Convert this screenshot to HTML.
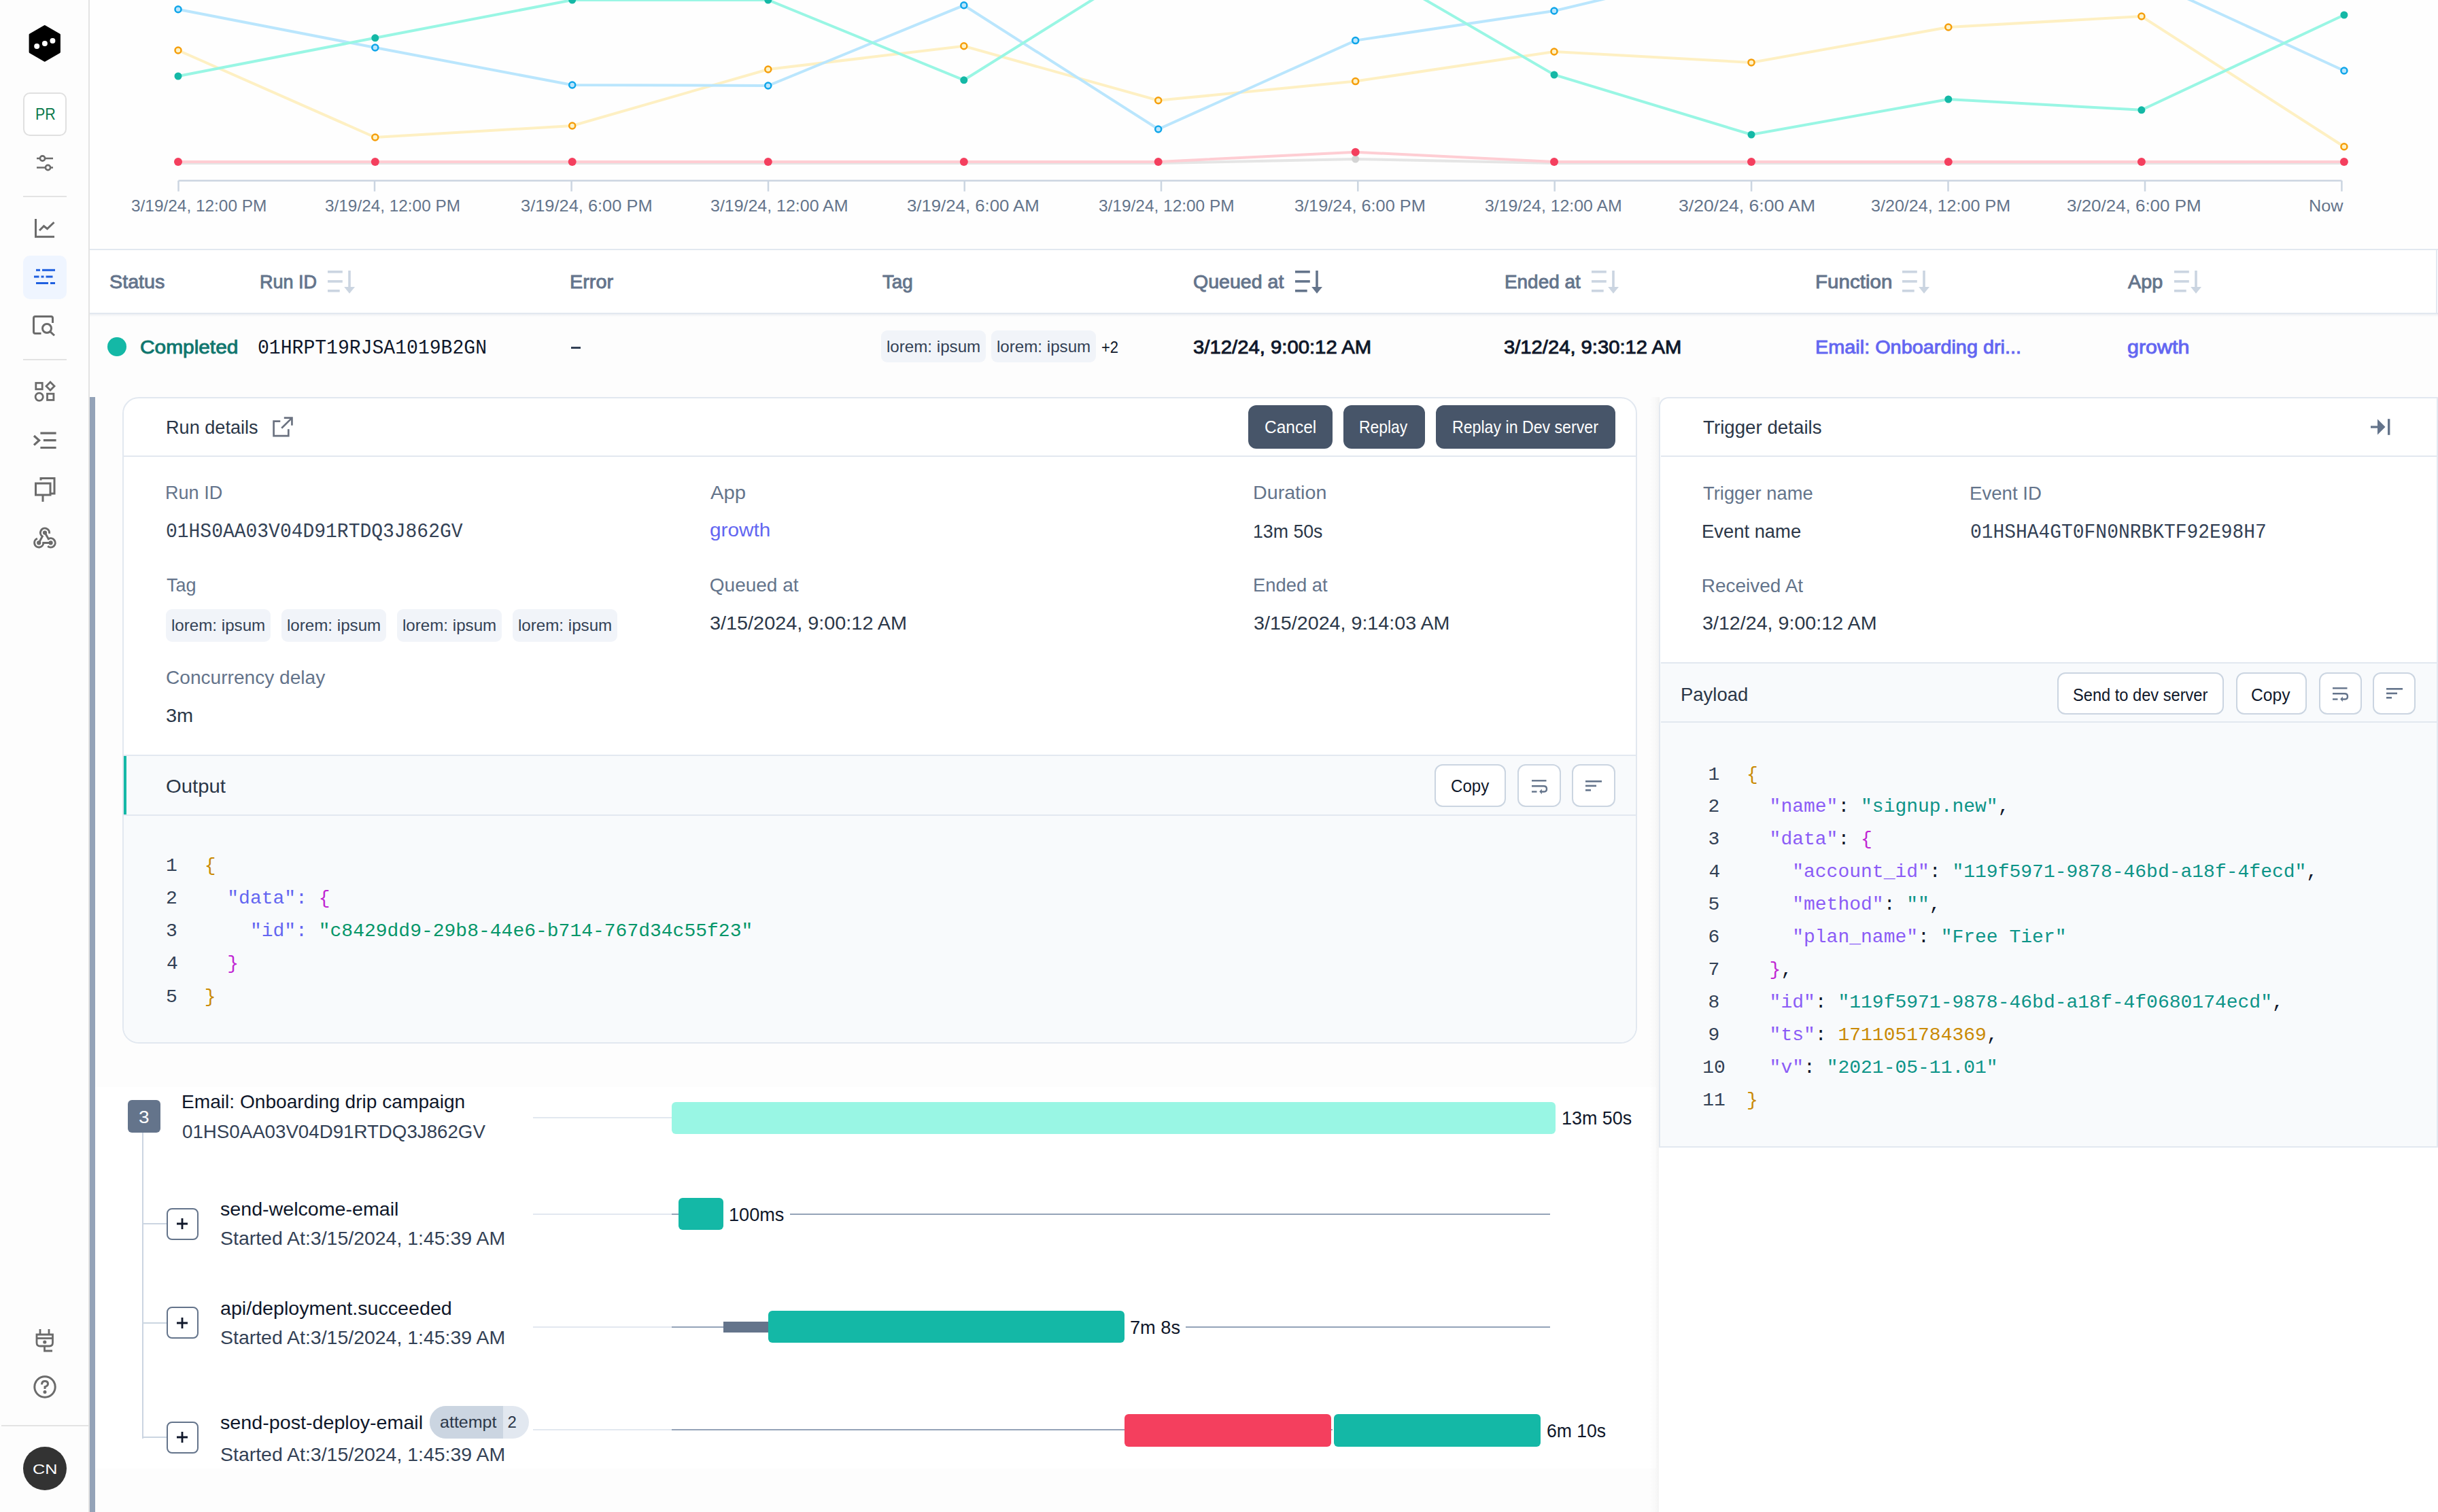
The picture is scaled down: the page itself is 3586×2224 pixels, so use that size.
<!DOCTYPE html>
<html><head><meta charset="utf-8"><style>
html,body{margin:0;padding:0;}
body{width:3586px;height:2224px;overflow:hidden;position:relative;background:#fdfdfd;font-family:"Liberation Sans",sans-serif;}
.t{position:absolute;white-space:pre;line-height:normal;}
svg{position:absolute;overflow:visible;}
</style></head><body>
<div style="position:absolute;left:0px;top:0px;width:130px;height:2224px;z-index:0;background:#fdfdfd;"></div><div style="position:absolute;left:130px;top:0px;width:2px;height:2224px;z-index:2;background:#e3e3e3;"></div><svg style="left:40px;top:35px;z-index:3" width="52" height="60" viewBox="0 0 52 60">
<path d="M25.75 3.5L47.4 16.1V41.6L25.75 54.2L4.1 41.6V16.1Z" fill="#000" stroke="#000" stroke-width="3" stroke-linejoin="round"/>
<circle cx="14.2" cy="32.9" r="4" fill="#fff"/><circle cx="25.9" cy="28.9" r="4" fill="#fff"/><circle cx="37.4" cy="24.9" r="4" fill="#fff"/>
</svg><div style="position:absolute;left:34px;top:136px;width:64px;height:64px;z-index:3;border:2px solid #e0e0e0;border-radius:10px;box-sizing:border-box;background:#fff;"></div><svg style="left:54px;top:226px;z-index:3" width="26" height="28" viewBox="0 0 26 28" fill="none" stroke="#6b6b6b" stroke-width="2.6">
<path d="M0 7H4.5M12.5 7H24"/><circle cx="8.5" cy="7" r="3.6"/>
<path d="M0 20.5H12.5M20.5 20.5H24"/><circle cx="16.5" cy="20.5" r="3.6"/></svg><div style="position:absolute;left:34px;top:288px;width:64px;height:2px;z-index:3;background:#e3e3e3;"></div><svg style="left:50px;top:320px;z-index:3" width="32" height="32" viewBox="0 0 32 32" fill="none" stroke="#6b6b6b" stroke-width="3">
<path d="M2.5 2V28.2H30"/><path d="M8 19L14.5 12.5L19.5 16.5L29.5 7"/></svg><div style="position:absolute;left:34px;top:376px;width:64px;height:64px;z-index:2;background:#eff5ff;border-radius:10px;"></div><svg style="left:48px;top:394px;z-index:3" width="36" height="26" viewBox="0 0 36 26" fill="#1e5fe0">
<rect x="5" y="1.8" width="6" height="3"/><rect x="14" y="1.8" width="19" height="3"/>
<rect x="2" y="11.5" width="7.5" height="3"/><rect x="12.5" y="11.5" width="4" height="3"/><rect x="19.5" y="11.5" width="10" height="3"/>
<rect x="5" y="21" width="18" height="3"/><rect x="26" y="21" width="7" height="3"/></svg><svg style="left:47px;top:463px;z-index:3" width="36" height="32" viewBox="0 0 36 32" fill="none" stroke="#6b6b6b" stroke-width="3">
<path d="M13.5 27.5H5Q2.5 27.5 2.5 25V5Q2.5 2.5 5 2.5H28Q30.5 2.5 30.5 5V12"/><circle cx="22" cy="20" r="6.5"/><path d="M26.8 24.8L33 30.5"/></svg><div style="position:absolute;left:34px;top:528px;width:64px;height:2px;z-index:3;background:#e3e3e3;"></div><svg style="left:49px;top:559px;z-index:3" width="34" height="34" viewBox="0 0 34 34" fill="none" stroke="#6b6b6b" stroke-width="2.8">
<rect x="3.8" y="4.3" width="9.4" height="9.2"/><path d="M25 3L31 9L25 15L19 9Z"/><circle cx="8.7" cy="24.8" r="5.6"/><rect x="20.5" y="20.2" width="9.4" height="9.2"/></svg><svg style="left:48px;top:633px;z-index:3" width="38" height="30" viewBox="0 0 38 30" fill="none" stroke="#6b6b6b" stroke-width="3.2">
<path d="M2 8L9.6 14.8L2 21.6"/><path d="M11.4 4.2H34.6M15.9 14.7H34.6M11.4 25.5H34.6"/></svg><svg style="left:50px;top:701px;z-index:3" width="34" height="40" viewBox="0 0 34 40" fill="none" stroke="#6b6b6b" stroke-width="3">
<path d="M10 5.5V2.5H30V25H24"/><rect x="2.5" y="10" width="21.5" height="17"/><path d="M13 27V37"/></svg><svg style="left:40px;top:765px;z-index:3" width="52" height="50" viewBox="0 0 52 50" fill="none" stroke="#6b6b6b" stroke-width="3">
<path d="M17.2 33.4L22.3 24A6.6 6.6 0 1 1 32.5 19.8"/><path d="M26 18.5L31.3 27.7A6.6 6.6 0 1 1 30.2 38.3"/><path d="M34.6 33.4H23.8A6.6 6.6 0 1 1 14.94 27.2"/>
<circle cx="26" cy="18.5" r="3.1" fill="#6b6b6b" stroke="none"/><circle cx="17.2" cy="33.4" r="3.1" fill="#6b6b6b" stroke="none"/><circle cx="34.6" cy="33.4" r="3.1" fill="#6b6b6b" stroke="none"/></svg><svg style="left:51px;top:1953px;z-index:3" width="30" height="38" viewBox="0 0 30 38" fill="none" stroke="#6b6b6b" stroke-width="2.8">
<path d="M8 2V10M21 2V10"/><path d="M3 10H26.5V22Q26.5 27 21.5 27H8Q3 27 3 22Z"/><path d="M3 15.5H26.5"/><path d="M14.5 27V34H26"/><circle cx="14.8" cy="21" r="1.2" fill="#6b6b6b"/></svg><svg style="left:48px;top:2022px;z-index:3" width="36" height="36" viewBox="0 0 36 36" fill="none" stroke="#6b6b6b" stroke-width="3">
<circle cx="18" cy="18" r="15.2"/><path d="M13.5 14.5Q13.5 9.5 18 9.5Q22.5 9.5 22.5 13.5Q22.5 16.5 18 18V21"/><circle cx="18" cy="25.5" r="1" fill="#6b6b6b"/></svg><div style="position:absolute;left:2px;top:2096px;width:128px;height:2px;z-index:3;background:#e3e3e3;"></div><div style="position:absolute;left:34px;top:2128px;width:64px;height:64px;z-index:3;background:#333;border-radius:50%;"></div><div style="position:absolute;left:132px;top:0px;width:3454px;height:366px;z-index:0;background:#fefefe;"></div><svg style="left:0;top:0;z-index:2" width="3586" height="366" viewBox="0 0 3586 366"><polyline points="262.0,240.0 551.8,240.0 841.7,240.0 1129.8,240.0 1417.8,240.0 1703.7,240.0 1993.7,234.0 2286.0,240.0 2576.0,240.0 2865.8,240.0 3149.9,240.0 3447.9,240.0" fill="none" stroke="#e5e5e5" stroke-width="4"/><polyline points="262.0,238.0 551.8,238.0 841.7,238.0 1129.8,238.0 1417.8,238.0 1703.7,238.0 1993.7,223.7 2286.0,238.0 2576.0,238.0 2865.8,238.0 3149.9,238.0 3447.9,238.0" fill="none" stroke="#fecdd3" stroke-width="4"/><polyline points="262.0,74.0 551.8,202.0 841.7,185.0 1129.8,102.0 1417.8,67.8 1703.7,147.8 1993.7,119.6 2286.0,76.0 2576.0,91.9 2865.8,40.0 3149.9,24.0 3447.9,215.8" fill="none" stroke="#fef0c3" stroke-width="4"/><polyline points="262.0,13.8 551.8,70.0 841.7,125.0 1129.8,126.0 1417.8,7.8 1703.7,190.0 1993.7,59.6 2286.0,16.0 2576.0,-53.0 2865.8,-60.0 3149.9,-33.0 3447.9,104.0" fill="none" stroke="#bae6fd" stroke-width="4"/><polyline points="262.0,112.0 551.8,55.8 841.7,0.0 1129.8,0.0 1417.8,117.8 1703.7,-61.0 1993.7,-60.0 2286.0,110.0 2576.0,198.0 2865.8,146.0 3149.9,161.8 3447.9,22.0" fill="none" stroke="#99f6e4" stroke-width="4"/><circle cx="1993.7" cy="234" r="5.5" fill="#d4d4d4"/><circle cx="262.0" cy="238" r="6" fill="#f43f5e"/><circle cx="551.8" cy="238" r="6" fill="#f43f5e"/><circle cx="841.7" cy="238" r="6" fill="#f43f5e"/><circle cx="1129.8" cy="238" r="6" fill="#f43f5e"/><circle cx="1417.8" cy="238" r="6" fill="#f43f5e"/><circle cx="1703.7" cy="238" r="6" fill="#f43f5e"/><circle cx="1993.7" cy="223.7" r="6" fill="#f43f5e"/><circle cx="2286.0" cy="238" r="6" fill="#f43f5e"/><circle cx="2576.0" cy="238" r="6" fill="#f43f5e"/><circle cx="2865.8" cy="238" r="6" fill="#f43f5e"/><circle cx="3149.9" cy="238" r="6" fill="#f43f5e"/><circle cx="3447.9" cy="238" r="6" fill="#f43f5e"/><circle cx="262.0" cy="74" r="4.5" fill="#fef3c7" stroke="#f59e0b" stroke-width="2.5"/><circle cx="551.8" cy="202" r="4.5" fill="#fef3c7" stroke="#f59e0b" stroke-width="2.5"/><circle cx="841.7" cy="185" r="4.5" fill="#fef3c7" stroke="#f59e0b" stroke-width="2.5"/><circle cx="1129.8" cy="102" r="4.5" fill="#fef3c7" stroke="#f59e0b" stroke-width="2.5"/><circle cx="1417.8" cy="67.8" r="4.5" fill="#fef3c7" stroke="#f59e0b" stroke-width="2.5"/><circle cx="1703.7" cy="147.8" r="4.5" fill="#fef3c7" stroke="#f59e0b" stroke-width="2.5"/><circle cx="1993.7" cy="119.6" r="4.5" fill="#fef3c7" stroke="#f59e0b" stroke-width="2.5"/><circle cx="2286.0" cy="76" r="4.5" fill="#fef3c7" stroke="#f59e0b" stroke-width="2.5"/><circle cx="2576.0" cy="91.9" r="4.5" fill="#fef3c7" stroke="#f59e0b" stroke-width="2.5"/><circle cx="2865.8" cy="40" r="4.5" fill="#fef3c7" stroke="#f59e0b" stroke-width="2.5"/><circle cx="3149.9" cy="24" r="4.5" fill="#fef3c7" stroke="#f59e0b" stroke-width="2.5"/><circle cx="3447.9" cy="215.8" r="4.5" fill="#fef3c7" stroke="#f59e0b" stroke-width="2.5"/><circle cx="262.0" cy="13.8" r="4.5" fill="#bae6fd" stroke="#0ea5e9" stroke-width="2.5"/><circle cx="551.8" cy="70" r="4.5" fill="#bae6fd" stroke="#0ea5e9" stroke-width="2.5"/><circle cx="841.7" cy="125" r="4.5" fill="#bae6fd" stroke="#0ea5e9" stroke-width="2.5"/><circle cx="1129.8" cy="126" r="4.5" fill="#bae6fd" stroke="#0ea5e9" stroke-width="2.5"/><circle cx="1417.8" cy="7.8" r="4.5" fill="#bae6fd" stroke="#0ea5e9" stroke-width="2.5"/><circle cx="1703.7" cy="190" r="4.5" fill="#bae6fd" stroke="#0ea5e9" stroke-width="2.5"/><circle cx="1993.7" cy="59.6" r="4.5" fill="#bae6fd" stroke="#0ea5e9" stroke-width="2.5"/><circle cx="2286.0" cy="16" r="4.5" fill="#bae6fd" stroke="#0ea5e9" stroke-width="2.5"/><circle cx="2576.0" cy="-53" r="4.5" fill="#bae6fd" stroke="#0ea5e9" stroke-width="2.5"/><circle cx="2865.8" cy="-60" r="4.5" fill="#bae6fd" stroke="#0ea5e9" stroke-width="2.5"/><circle cx="3149.9" cy="-33" r="4.5" fill="#bae6fd" stroke="#0ea5e9" stroke-width="2.5"/><circle cx="3447.9" cy="104" r="4.5" fill="#bae6fd" stroke="#0ea5e9" stroke-width="2.5"/><circle cx="262.0" cy="112" r="5.5" fill="#14b8a6"/><circle cx="551.8" cy="55.8" r="5.5" fill="#14b8a6"/><circle cx="841.7" cy="0" r="5.5" fill="#14b8a6"/><circle cx="1129.8" cy="0" r="5.5" fill="#14b8a6"/><circle cx="1417.8" cy="117.8" r="5.5" fill="#14b8a6"/><circle cx="1703.7" cy="-61" r="5.5" fill="#14b8a6"/><circle cx="1993.7" cy="-60" r="5.5" fill="#14b8a6"/><circle cx="2286.0" cy="110" r="5.5" fill="#14b8a6"/><circle cx="2576.0" cy="198" r="5.5" fill="#14b8a6"/><circle cx="2865.8" cy="146" r="5.5" fill="#14b8a6"/><circle cx="3149.9" cy="161.8" r="5.5" fill="#14b8a6"/><circle cx="3447.9" cy="22" r="5.5" fill="#14b8a6"/><path d="M262.5 265.7H3444.4" stroke="#cbd5e1" stroke-width="2.5"/><path d="M262.5 265.7V281.5" stroke="#cbd5e1" stroke-width="2.5"/><path d="M551.0 265.7V281.5" stroke="#cbd5e1" stroke-width="2.5"/><path d="M840.6 265.7V281.5" stroke="#cbd5e1" stroke-width="2.5"/><path d="M1130.0 265.7V281.5" stroke="#cbd5e1" stroke-width="2.5"/><path d="M1418.7 265.7V281.5" stroke="#cbd5e1" stroke-width="2.5"/><path d="M1708.0 265.7V281.5" stroke="#cbd5e1" stroke-width="2.5"/><path d="M1997.3 265.7V281.5" stroke="#cbd5e1" stroke-width="2.5"/><path d="M2286.7 265.7V281.5" stroke="#cbd5e1" stroke-width="2.5"/><path d="M2576.1 265.7V281.5" stroke="#cbd5e1" stroke-width="2.5"/><path d="M2865.5 265.7V281.5" stroke="#cbd5e1" stroke-width="2.5"/><path d="M3155.0 265.7V281.5" stroke="#cbd5e1" stroke-width="2.5"/><path d="M3444.4 265.7V281.5" stroke="#cbd5e1" stroke-width="2.5"/></svg><div style="position:absolute;left:132px;top:366px;width:3454px;height:95px;z-index:1;background:#fff;"></div><div style="position:absolute;left:132px;top:365.5px;width:3454px;height:2.0px;z-index:2;background:#e2e8f0;"></div><div style="position:absolute;left:132px;top:460px;width:3454px;height:2px;z-index:2;background:#e2e8f0;"></div><div style="position:absolute;left:132px;top:462px;width:3454px;height:4px;z-index:2;background:linear-gradient(#eef0f3,rgba(252,252,253,0));"></div><div style="position:absolute;left:3583px;top:366px;width:2px;height:95px;z-index:2;background:#e2e8f0;"></div><svg style="left:482px;top:398px;z-index:3" width="42" height="35" viewBox="0 0 42 35" fill="#cbd5e1">
<rect x="0" y="0" width="21.8" height="3.6"/><rect x="0" y="14.1" width="21.8" height="3.6"/><rect x="0" y="28" width="17.7" height="3.6"/>
<rect x="30.2" y="0" width="3.6" height="24.5"/><path d="M24.2 24H40L32 33.7Z"/></svg><svg style="left:1905px;top:398px;z-index:3" width="42" height="35" viewBox="0 0 42 35" fill="#64748b">
<rect x="0" y="0" width="21.8" height="3.6"/><rect x="0" y="14.1" width="21.8" height="3.6"/><rect x="0" y="28" width="17.7" height="3.6"/>
<rect x="30.2" y="0" width="3.6" height="24.5"/><path d="M24.2 24H40L32 33.7Z"/></svg><svg style="left:2340.7px;top:398px;z-index:3" width="42" height="35" viewBox="0 0 42 35" fill="#cbd5e1">
<rect x="0" y="0" width="21.8" height="3.6"/><rect x="0" y="14.1" width="21.8" height="3.6"/><rect x="0" y="28" width="17.7" height="3.6"/>
<rect x="30.2" y="0" width="3.6" height="24.5"/><path d="M24.2 24H40L32 33.7Z"/></svg><svg style="left:2798px;top:398px;z-index:3" width="42" height="35" viewBox="0 0 42 35" fill="#cbd5e1">
<rect x="0" y="0" width="21.8" height="3.6"/><rect x="0" y="14.1" width="21.8" height="3.6"/><rect x="0" y="28" width="17.7" height="3.6"/>
<rect x="30.2" y="0" width="3.6" height="24.5"/><path d="M24.2 24H40L32 33.7Z"/></svg><svg style="left:3197.7px;top:398px;z-index:3" width="42" height="35" viewBox="0 0 42 35" fill="#cbd5e1">
<rect x="0" y="0" width="21.8" height="3.6"/><rect x="0" y="14.1" width="21.8" height="3.6"/><rect x="0" y="28" width="17.7" height="3.6"/>
<rect x="30.2" y="0" width="3.6" height="24.5"/><path d="M24.2 24H40L32 33.7Z"/></svg><div style="position:absolute;left:158px;top:496px;width:28px;height:28px;border-radius:50%;background:#14b8a6;z-index:3"></div><div style="position:absolute;left:840px;top:510px;width:14px;height:2.5px;z-index:3;background:#334155;"></div><div style="position:absolute;left:1296px;top:485.5px;width:154px;height:47.799999999999955px;z-index:3;background:#f1f4f9;border-radius:9px;"></div><div style="position:absolute;left:1458px;top:485.5px;width:154px;height:47.799999999999955px;z-index:3;background:#f1f4f9;border-radius:9px;"></div><div style="position:absolute;left:132px;top:584px;width:8px;height:1640px;z-index:2;background:#94a3b8;"></div><div style="position:absolute;left:180px;top:583.5px;width:2228px;height:951.5px;z-index:1;border:2px solid #e2e8f0;border-radius:24px;background:#fff;box-sizing:border-box;overflow:hidden;"></div><div style="position:absolute;left:182px;top:670px;width:2224px;height:2px;z-index:2;background:#e2e8f0;"></div><svg style="left:400px;top:612px;z-index:3" width="32" height="32" viewBox="0 0 32 32" fill="none" stroke="#6b7280" stroke-width="2.7">
<path d="M12.3 7.6H2.6V29.2H24.3V19.3"/><path d="M17.8 2.65H29.45V13.8"/><path d="M14.2 17.8L28.8 3.4"/></svg><div style="position:absolute;left:1836px;top:596px;width:124px;height:64px;z-index:3;background:#475569;border-radius:12px;"></div><div style="position:absolute;left:1976px;top:596px;width:120px;height:64px;z-index:3;background:#475569;border-radius:12px;"></div><div style="position:absolute;left:2112px;top:596px;width:264px;height:64px;z-index:3;background:#475569;border-radius:12px;"></div><div style="position:absolute;left:244px;top:896px;width:154px;height:47.5px;z-index:3;background:#f1f4f9;border-radius:9px;"></div><div style="position:absolute;left:414px;top:896px;width:154px;height:47.5px;z-index:3;background:#f1f4f9;border-radius:9px;"></div><div style="position:absolute;left:584px;top:896px;width:154px;height:47.5px;z-index:3;background:#f1f4f9;border-radius:9px;"></div><div style="position:absolute;left:754px;top:896px;width:154px;height:47.5px;z-index:3;background:#f1f4f9;border-radius:9px;"></div><div style="position:absolute;left:182px;top:1110px;width:2224px;height:423px;z-index:2;background:#f8fafc;border-radius:0 0 22px 22px;"></div><div style="position:absolute;left:182px;top:1110px;width:2224px;height:2px;z-index:3;background:#e2e8f0;"></div><div style="position:absolute;left:182px;top:1198px;width:2224px;height:2px;z-index:3;background:#e2e8f0;"></div><div style="position:absolute;left:182px;top:1112px;width:4px;height:86px;z-index:3;background:#14b8a6;"></div><div style="position:absolute;left:2110.3px;top:1124.4px;width:105.19999999999982px;height:62.899999999999864px;z-index:4;background:#fff;border:2px solid #cbd5e1;border-radius:12px;box-sizing:border-box;"></div><div style="position:absolute;left:2232px;top:1124.4px;width:63.5px;height:62.899999999999864px;z-index:4;background:#fff;border:2px solid #cbd5e1;border-radius:12px;box-sizing:border-box;"></div><svg style="left:2253px;top:1146.5px;z-index:5" width="24" height="24" viewBox="0 0 24 24" fill="none" stroke="#64748b" stroke-width="2.4">
<path d="M0 1.3H21.5"/><path d="M0 9.3H17.5Q22 9.3 22 13.4Q22 17.5 17.5 17.5H13"/><path d="M0 17.5H7.5"/><path d="M11.2 17.3L14.8 13.4V21.2Z" fill="#64748b" stroke="none"/></svg><div style="position:absolute;left:2312px;top:1124.4px;width:63.59999999999991px;height:62.899999999999864px;z-index:4;background:#fff;border:2px solid #cbd5e1;border-radius:12px;box-sizing:border-box;"></div><svg style="left:2332px;top:1148px;z-index:5" width="25" height="17" viewBox="0 0 25 17" fill="#64748b">
<rect x="0" y="0" width="24" height="2.6"/><rect x="0" y="6.6" width="16" height="2.6"/><rect x="0" y="13" width="8" height="2.6"/></svg><div style="position:absolute;left:140px;top:1599px;width:2296px;height:561px;z-index:0;background:#fff;"></div><div style="position:absolute;left:188px;top:1618.3px;width:48px;height:47.700000000000045px;z-index:3;background:#64748b;border-radius:6px;"></div><div style="position:absolute;left:209px;top:1666px;width:2px;height:450px;z-index:2;background:#cbd5e1;"></div><div style="position:absolute;left:210px;top:1799.1px;width:35px;height:2.0px;z-index:2;background:#cbd5e1;"></div><div style="position:absolute;left:244.8px;top:1776.6px;width:46.80000000000001px;height:47.0px;z-index:3;border:2px solid #64748b;border-radius:8px;box-sizing:border-box;background:#fff;"></div><svg style="left:256px;top:1788.1px;z-index:4" width="24" height="24" viewBox="0 0 24 24" stroke="#0f172a" stroke-width="2.8"><path d="M12 4V20M4 12H20"/></svg><div style="position:absolute;left:210px;top:1944.5px;width:35px;height:2.0px;z-index:2;background:#cbd5e1;"></div><div style="position:absolute;left:244.8px;top:1922px;width:46.80000000000001px;height:47px;z-index:3;border:2px solid #64748b;border-radius:8px;box-sizing:border-box;background:#fff;"></div><svg style="left:256px;top:1933.5px;z-index:4" width="24" height="24" viewBox="0 0 24 24" stroke="#0f172a" stroke-width="2.8"><path d="M12 4V20M4 12H20"/></svg><div style="position:absolute;left:210px;top:2113.3px;width:35px;height:2.0px;z-index:2;background:#cbd5e1;"></div><div style="position:absolute;left:244.8px;top:2090.8px;width:46.80000000000001px;height:47.0px;z-index:3;border:2px solid #64748b;border-radius:8px;box-sizing:border-box;background:#fff;"></div><svg style="left:256px;top:2102.3px;z-index:4" width="24" height="24" viewBox="0 0 24 24" stroke="#0f172a" stroke-width="2.8"><path d="M12 4V20M4 12H20"/></svg><div style="position:absolute;left:632px;top:2068.4px;width:146px;height:47.40000000000009px;z-index:3;background:#e2e8f0;border-radius:24px;"></div><div style="position:absolute;left:632px;top:2068.4px;width:108px;height:47.40000000000009px;z-index:3;background:#cbd5e1;border-radius:24px 0 0 24px;"></div><div style="position:absolute;left:784px;top:1643.0px;width:204px;height:2.0px;z-index:2;background:#e2e8f0;"></div><div style="position:absolute;left:988px;top:1620.5px;width:1299.5px;height:47.200000000000045px;z-index:3;background:#99f6e4;border-radius:6px;"></div><div style="position:absolute;left:784px;top:1784.7px;width:204px;height:2.0px;z-index:2;background:#e2e8f0;"></div><div style="position:absolute;left:988px;top:1784.7px;width:10px;height:2.0px;z-index:2;background:#94a3b8;"></div><div style="position:absolute;left:998px;top:1762.3px;width:65.70000000000005px;height:46.700000000000045px;z-index:3;background:#14b8a6;border-radius:6px;"></div><div style="position:absolute;left:1161.6px;top:1784.7px;width:1118.2000000000003px;height:2.0px;z-index:2;background:#94a3b8;"></div><div style="position:absolute;left:784px;top:1950.9px;width:204px;height:2.0px;z-index:2;background:#e2e8f0;"></div><div style="position:absolute;left:988px;top:1950.9px;width:76px;height:2.0px;z-index:2;background:#94a3b8;"></div><div style="position:absolute;left:1064px;top:1944px;width:67px;height:15.5px;z-index:3;background:#64748b;"></div><div style="position:absolute;left:1130px;top:1928px;width:523.7px;height:47.200000000000045px;z-index:3;background:#14b8a6;border-radius:6px;"></div><div style="position:absolute;left:1744px;top:1950.9px;width:535.8000000000002px;height:2.0px;z-index:2;background:#94a3b8;"></div><div style="position:absolute;left:784px;top:2102.4px;width:204px;height:2.0px;z-index:2;background:#e2e8f0;"></div><div style="position:absolute;left:988px;top:2102.4px;width:972px;height:2.0px;z-index:2;background:#94a3b8;"></div><div style="position:absolute;left:1654px;top:2080px;width:303.79999999999995px;height:47.80000000000018px;z-index:3;background:#f43f5e;border-radius:6px;"></div><div style="position:absolute;left:1962px;top:2080px;width:303.8000000000002px;height:47.80000000000018px;z-index:3;background:#14b8a6;border-radius:6px;"></div><div style="position:absolute;left:2426px;top:584px;width:15px;height:1640px;z-index:1;background:linear-gradient(to left, rgba(0,0,0,0.045), rgba(0,0,0,0.015) 40%, rgba(0,0,0,0));"></div><div style="position:absolute;left:2440px;top:584px;width:1146px;height:1670px;z-index:1;border-radius:14px 0 0 0;background:#fff;"></div><div style="position:absolute;left:2440px;top:584px;width:1146px;height:1104px;z-index:4;border:2px solid #e2e8f0;border-radius:14px 0 0 0;box-sizing:border-box;"></div><div style="position:absolute;left:2443px;top:670px;width:1143px;height:2px;z-index:2;background:#e2e8f0;"></div><svg style="left:3486px;top:616px;z-index:3" width="32" height="25" viewBox="0 0 32 25" fill="#64748b">
<rect x="1" y="10.4" width="11" height="3.3"/><path d="M11 0.6L22.5 12.1L11 23.4Z"/><rect x="26" y="0.2" width="3.4" height="23.6"/></svg><div style="position:absolute;left:2442px;top:974px;width:1142px;height:712px;z-index:2;background:#f8fafc;"></div><div style="position:absolute;left:2443px;top:973.6px;width:1143px;height:2.0px;z-index:3;background:#e2e8f0;"></div><div style="position:absolute;left:2443px;top:1061.2px;width:1143px;height:2.0px;z-index:3;background:#e2e8f0;"></div><div style="position:absolute;left:3026.4px;top:989px;width:244.9000000000001px;height:62.200000000000045px;z-index:4;background:#fff;border:2px solid #cbd5e1;border-radius:12px;box-sizing:border-box;"></div><div style="position:absolute;left:3288.5px;top:989px;width:104.80000000000018px;height:62.200000000000045px;z-index:4;background:#fff;border:2px solid #cbd5e1;border-radius:12px;box-sizing:border-box;"></div><div style="position:absolute;left:3410.5px;top:989px;width:63.09999999999991px;height:62.200000000000045px;z-index:4;background:#fff;border:2px solid #cbd5e1;border-radius:12px;box-sizing:border-box;"></div><svg style="left:3431px;top:1010.5px;z-index:5" width="24" height="24" viewBox="0 0 24 24" fill="none" stroke="#64748b" stroke-width="2.4">
<path d="M0 1.3H21.5"/><path d="M0 9.3H17.5Q22 9.3 22 13.4Q22 17.5 17.5 17.5H13"/><path d="M0 17.5H7.5"/><path d="M11.2 17.3L14.8 13.4V21.2Z" fill="#64748b" stroke="none"/></svg><div style="position:absolute;left:3490.3px;top:989px;width:63.19999999999982px;height:62.200000000000045px;z-index:4;background:#fff;border:2px solid #cbd5e1;border-radius:12px;box-sizing:border-box;"></div><svg style="left:3510px;top:1012px;z-index:5" width="25" height="17" viewBox="0 0 25 17" fill="#64748b">
<rect x="0" y="0" width="24" height="2.6"/><rect x="0" y="6.6" width="16" height="2.6"/><rect x="0" y="13" width="8" height="2.6"/></svg>
<div class="t" style="left:51.60px;top:154.07px;font:400 24px 'Liberation Sans', sans-serif;color:#0b7a4b;z-index:5;transform:scaleX(0.8938);transform-origin:0 0;">PR</div><div class="t" style="left:48.20px;top:2148.69px;font:400 21px 'Liberation Sans', sans-serif;color:#fff;z-index:5;transform:scaleX(1.2001);transform-origin:0 0;">CN</div><div class="t" style="left:193.20px;top:288.77px;font:400 24px 'Liberation Sans', sans-serif;color:#64748b;z-index:5;transform:scaleX(1.0165);transform-origin:0 0;">3/19/24, 12:00 PM</div><div class="t" style="left:477.60px;top:288.77px;font:400 24px 'Liberation Sans', sans-serif;color:#64748b;z-index:5;transform:scaleX(1.0144);transform-origin:0 0;">3/19/24, 12:00 PM</div><div class="t" style="left:765.70px;top:288.77px;font:400 24px 'Liberation Sans', sans-serif;color:#64748b;z-index:5;transform:scaleX(1.0589);transform-origin:0 0;">3/19/24, 6:00 PM</div><div class="t" style="left:1045.00px;top:288.77px;font:400 24px 'Liberation Sans', sans-serif;color:#64748b;z-index:5;transform:scaleX(1.0396);transform-origin:0 0;">3/19/24, 12:00 AM</div><div class="t" style="left:1334.00px;top:288.77px;font:400 24px 'Liberation Sans', sans-serif;color:#64748b;z-index:5;transform:scaleX(1.0726);transform-origin:0 0;">3/19/24, 6:00 AM</div><div class="t" style="left:1615.80px;top:288.77px;font:400 24px 'Liberation Sans', sans-serif;color:#64748b;z-index:5;transform:scaleX(1.0175);transform-origin:0 0;">3/19/24, 12:00 PM</div><div class="t" style="left:1903.60px;top:288.77px;font:400 24px 'Liberation Sans', sans-serif;color:#64748b;z-index:5;transform:scaleX(1.0545);transform-origin:0 0;">3/19/24, 6:00 PM</div><div class="t" style="left:2184.00px;top:288.77px;font:400 24px 'Liberation Sans', sans-serif;color:#64748b;z-index:5;transform:scaleX(1.0354);transform-origin:0 0;">3/19/24, 12:00 AM</div><div class="t" style="left:2469.00px;top:288.77px;font:400 24px 'Liberation Sans', sans-serif;color:#64748b;z-index:5;transform:scaleX(1.1084);transform-origin:0 0;">3/20/24, 6:00 AM</div><div class="t" style="left:2751.60px;top:288.77px;font:400 24px 'Liberation Sans', sans-serif;color:#64748b;z-index:5;transform:scaleX(1.0454);transform-origin:0 0;">3/20/24, 12:00 PM</div><div class="t" style="left:3039.60px;top:288.77px;font:400 24px 'Liberation Sans', sans-serif;color:#64748b;z-index:5;transform:scaleX(1.0811);transform-origin:0 0;">3/20/24, 6:00 PM</div><div class="t" style="left:3396.30px;top:288.77px;font:400 24px 'Liberation Sans', sans-serif;color:#64748b;z-index:5;transform:scaleX(1.0522);transform-origin:0 0;">Now</div><div class="t" style="left:161.00px;top:399.25px;font:400 28px 'Liberation Sans', sans-serif;color:#64748b;z-index:5;transform:scaleX(1.0256);transform-origin:0 0;-webkit-text-stroke:0.9px #64748b;">Status</div><div class="t" style="left:382.30px;top:399.25px;font:400 28px 'Liberation Sans', sans-serif;color:#64748b;z-index:5;transform:scaleX(0.9648);transform-origin:0 0;-webkit-text-stroke:0.9px #64748b;">Run ID</div><div class="t" style="left:838.40px;top:399.25px;font:400 28px 'Liberation Sans', sans-serif;color:#64748b;z-index:5;transform:scaleX(1.0296);transform-origin:0 0;-webkit-text-stroke:0.9px #64748b;">Error</div><div class="t" style="left:1297.70px;top:399.25px;font:400 28px 'Liberation Sans', sans-serif;color:#64748b;z-index:5;transform:scaleX(0.9909);transform-origin:0 0;-webkit-text-stroke:0.9px #64748b;">Tag</div><div class="t" style="left:1754.50px;top:399.25px;font:400 28px 'Liberation Sans', sans-serif;color:#64748b;z-index:5;transform:scaleX(1.0200);transform-origin:0 0;-webkit-text-stroke:0.9px #64748b;">Queued at</div><div class="t" style="left:2212.70px;top:399.25px;font:400 28px 'Liberation Sans', sans-serif;color:#64748b;z-index:5;transform:scaleX(0.9964);transform-origin:0 0;-webkit-text-stroke:0.9px #64748b;">Ended at</div><div class="t" style="left:2669.60px;top:399.25px;font:400 28px 'Liberation Sans', sans-serif;color:#64748b;z-index:5;transform:scaleX(1.0558);transform-origin:0 0;-webkit-text-stroke:0.9px #64748b;">Function</div><div class="t" style="left:3130.00px;top:399.25px;font:400 28px 'Liberation Sans', sans-serif;color:#64748b;z-index:5;transform:scaleX(1.0275);transform-origin:0 0;-webkit-text-stroke:0.9px #64748b;">App</div><div class="t" style="left:205.50px;top:495.45px;font:400 28px 'Liberation Sans', sans-serif;color:#0f766e;z-index:5;transform:scaleX(1.0662);transform-origin:0 0;-webkit-text-stroke:0.9px #0f766e;">Completed</div><div class="t" style="left:379.40px;top:495.22px;font:400 30px 'Liberation Mono', monospace;color:#0f172a;z-index:5;transform:scaleX(0.9360);transform-origin:0 0;">01HRPT19RJSA1019B2GN</div><div class="t" style="left:1303.60px;top:495.97px;font:400 24px 'Liberation Sans', sans-serif;color:#334155;z-index:5;transform:scaleX(1.0059);transform-origin:0 0;">lorem: ipsum</div><div class="t" style="left:1465.60px;top:495.97px;font:400 24px 'Liberation Sans', sans-serif;color:#334155;z-index:5;transform:scaleX(1.0059);transform-origin:0 0;">lorem: ipsum</div><div class="t" style="left:1619.60px;top:496.77px;font:400 24px 'Liberation Sans', sans-serif;color:#0f172a;z-index:5;transform:scaleX(0.9157);transform-origin:0 0;">+2</div><div class="t" style="left:1754.80px;top:494.65px;font:400 28px 'Liberation Sans', sans-serif;color:#0f172a;z-index:5;transform:scaleX(1.0458);transform-origin:0 0;-webkit-text-stroke:0.9px #0f172a;">3/12/24, 9:00:12 AM</div><div class="t" style="left:2212.20px;top:494.65px;font:400 28px 'Liberation Sans', sans-serif;color:#0f172a;z-index:5;transform:scaleX(1.0426);transform-origin:0 0;-webkit-text-stroke:0.9px #0f172a;">3/12/24, 9:30:12 AM</div><div class="t" style="left:2669.60px;top:495.05px;font:400 28px 'Liberation Sans', sans-serif;color:#6366f1;z-index:5;transform:scaleX(1.0303);transform-origin:0 0;-webkit-text-stroke:0.9px #6366f1;">Email: Onboarding dri...</div><div class="t" style="left:3129.00px;top:495.05px;font:400 28px 'Liberation Sans', sans-serif;color:#6366f1;z-index:5;transform:scaleX(1.0868);transform-origin:0 0;-webkit-text-stroke:0.9px #6366f1;">growth</div><div class="t" style="left:243.70px;top:613.45px;font:400 28px 'Liberation Sans', sans-serif;color:#2b3748;z-index:5;transform:scaleX(0.9679);transform-origin:0 0;">Run details</div><div class="t" style="left:1860.00px;top:613.46px;font:400 26px 'Liberation Sans', sans-serif;color:#fff;z-index:5;transform:scaleX(0.9419);transform-origin:0 0;">Cancel</div><div class="t" style="left:1999.40px;top:613.46px;font:400 26px 'Liberation Sans', sans-serif;color:#fff;z-index:5;transform:scaleX(0.8810);transform-origin:0 0;">Replay</div><div class="t" style="left:2135.90px;top:613.46px;font:400 26px 'Liberation Sans', sans-serif;color:#fff;z-index:5;transform:scaleX(0.8904);transform-origin:0 0;">Replay in Dev server</div><div class="t" style="left:242.60px;top:708.75px;font:400 28px 'Liberation Sans', sans-serif;color:#64748b;z-index:5;transform:scaleX(0.9667);transform-origin:0 0;">Run ID</div><div class="t" style="left:1044.80px;top:708.75px;font:400 28px 'Liberation Sans', sans-serif;color:#64748b;z-index:5;transform:scaleX(1.0449);transform-origin:0 0;">App</div><div class="t" style="left:1843.20px;top:708.75px;font:400 28px 'Liberation Sans', sans-serif;color:#64748b;z-index:5;transform:scaleX(1.0236);transform-origin:0 0;">Duration</div><div class="t" style="left:243.60px;top:765.42px;font:400 30px 'Liberation Mono', monospace;color:#334155;z-index:5;transform:scaleX(0.9326);transform-origin:0 0;">01HS0AA03V04D91RTDQ3J862GV</div><div class="t" style="left:1043.80px;top:764.25px;font:400 28px 'Liberation Sans', sans-serif;color:#6366f1;z-index:5;transform:scaleX(1.0634);transform-origin:0 0;">growth</div><div class="t" style="left:1843.20px;top:765.65px;font:400 28px 'Liberation Sans', sans-serif;color:#2b3748;z-index:5;transform:scaleX(0.9543);transform-origin:0 0;">13m 50s</div><div class="t" style="left:244.60px;top:844.95px;font:400 28px 'Liberation Sans', sans-serif;color:#64748b;z-index:5;transform:scaleX(0.9637);transform-origin:0 0;">Tag</div><div class="t" style="left:1043.80px;top:845.05px;font:400 28px 'Liberation Sans', sans-serif;color:#64748b;z-index:5;">Queued at</div><div class="t" style="left:1843.20px;top:845.05px;font:400 28px 'Liberation Sans', sans-serif;color:#64748b;z-index:5;transform:scaleX(0.9782);transform-origin:0 0;">Ended at</div><div class="t" style="left:251.80px;top:905.87px;font:400 24px 'Liberation Sans', sans-serif;color:#334155;z-index:5;transform:scaleX(1.0059);transform-origin:0 0;">lorem: ipsum</div><div class="t" style="left:421.80px;top:905.87px;font:400 24px 'Liberation Sans', sans-serif;color:#334155;z-index:5;transform:scaleX(1.0059);transform-origin:0 0;">lorem: ipsum</div><div class="t" style="left:591.80px;top:905.87px;font:400 24px 'Liberation Sans', sans-serif;color:#334155;z-index:5;transform:scaleX(1.0059);transform-origin:0 0;">lorem: ipsum</div><div class="t" style="left:761.80px;top:905.87px;font:400 24px 'Liberation Sans', sans-serif;color:#334155;z-index:5;transform:scaleX(1.0059);transform-origin:0 0;">lorem: ipsum</div><div class="t" style="left:1043.80px;top:901.35px;font:400 28px 'Liberation Sans', sans-serif;color:#2b3748;z-index:5;transform:scaleX(1.0294);transform-origin:0 0;">3/15/2024, 9:00:12 AM</div><div class="t" style="left:1844.20px;top:901.35px;font:400 28px 'Liberation Sans', sans-serif;color:#2b3748;z-index:5;transform:scaleX(1.0237);transform-origin:0 0;">3/15/2024, 9:14:03 AM</div><div class="t" style="left:243.60px;top:981.15px;font:400 28px 'Liberation Sans', sans-serif;color:#64748b;z-index:5;transform:scaleX(1.0034);transform-origin:0 0;">Concurrency delay</div><div class="t" style="left:243.60px;top:1036.95px;font:400 28px 'Liberation Sans', sans-serif;color:#2b3748;z-index:5;transform:scaleX(1.0339);transform-origin:0 0;">3m</div><div class="t" style="left:244.00px;top:1141.05px;font:400 28px 'Liberation Sans', sans-serif;color:#2b3748;z-index:5;transform:scaleX(1.0458);transform-origin:0 0;">Output</div><div class="t" style="left:2134.00px;top:1140.76px;font:400 26px 'Liberation Sans', sans-serif;color:#0f172a;z-index:5;transform:scaleX(0.9267);transform-origin:0 0;">Copy</div><div class="t" style="left:300.70px;top:1258.19px;font:400 28px 'Liberation Mono', monospace;color:#0f172a;z-index:5;"><span style="color:#ca8a04">{</span></div><div class="t" style="left:244.00px;top:1258.19px;font:400 28px 'Liberation Mono', monospace;color:#334155;z-index:5;">1</div><div class="t" style="left:300.70px;top:1306.29px;font:400 28px 'Liberation Mono', monospace;color:#0f172a;z-index:5;"><span style="color:#6366f1">  "data":</span><span style="color:#6366f1"> </span><span style="color:#c026d3">{</span></div><div class="t" style="left:244.00px;top:1306.29px;font:400 28px 'Liberation Mono', monospace;color:#334155;z-index:5;">2</div><div class="t" style="left:300.70px;top:1354.39px;font:400 28px 'Liberation Mono', monospace;color:#0f172a;z-index:5;"><span style="color:#6366f1">    "id":</span><span style="color:#6366f1"> </span><span style="color:#059669">"c8429dd9-29b8-44e6-b714-767d34c55f23"</span></div><div class="t" style="left:244.00px;top:1354.39px;font:400 28px 'Liberation Mono', monospace;color:#334155;z-index:5;">3</div><div class="t" style="left:300.70px;top:1402.49px;font:400 28px 'Liberation Mono', monospace;color:#0f172a;z-index:5;"><span style="color:#c026d3">  }</span></div><div class="t" style="left:245.00px;top:1402.49px;font:400 28px 'Liberation Mono', monospace;color:#334155;z-index:5;">4</div><div class="t" style="left:300.70px;top:1450.59px;font:400 28px 'Liberation Mono', monospace;color:#0f172a;z-index:5;"><span style="color:#ca8a04">}</span></div><div class="t" style="left:244.00px;top:1450.59px;font:400 28px 'Liberation Mono', monospace;color:#334155;z-index:5;">5</div><div class="t" style="left:204.00px;top:1628.46px;font:400 26px 'Liberation Sans', sans-serif;color:#fff;z-index:5;transform:scaleX(1.0769);transform-origin:0 0;">3</div><div class="t" style="left:267.20px;top:1605.05px;font:400 28px 'Liberation Sans', sans-serif;color:#0f172a;z-index:5;transform:scaleX(1.0039);transform-origin:0 0;">Email: Onboarding drip campaign</div><div class="t" style="left:268.00px;top:1648.85px;font:400 28px 'Liberation Sans', sans-serif;color:#334155;z-index:5;transform:scaleX(0.9889);transform-origin:0 0;">01HS0AA03V04D91RTDQ3J862GV</div><div class="t" style="left:324.00px;top:1762.55px;font:400 28px 'Liberation Sans', sans-serif;color:#0f172a;z-index:5;transform:scaleX(1.0220);transform-origin:0 0;">send-welcome-email</div><div class="t" style="left:324.00px;top:1806.35px;font:400 28px 'Liberation Sans', sans-serif;color:#334155;z-index:5;transform:scaleX(1.0161);transform-origin:0 0;">Started At:3/15/2024, 1:45:39 AM</div><div class="t" style="left:324.00px;top:1908.65px;font:400 28px 'Liberation Sans', sans-serif;color:#0f172a;z-index:5;transform:scaleX(1.0230);transform-origin:0 0;">api/deployment.succeeded</div><div class="t" style="left:324.00px;top:1952.45px;font:400 28px 'Liberation Sans', sans-serif;color:#334155;z-index:5;transform:scaleX(1.0161);transform-origin:0 0;">Started At:3/15/2024, 1:45:39 AM</div><div class="t" style="left:324.00px;top:2076.65px;font:400 28px 'Liberation Sans', sans-serif;color:#0f172a;z-index:5;transform:scaleX(1.0242);transform-origin:0 0;">send-post-deploy-email</div><div class="t" style="left:324.00px;top:2124.05px;font:400 28px 'Liberation Sans', sans-serif;color:#334155;z-index:5;transform:scaleX(1.0161);transform-origin:0 0;">Started At:3/15/2024, 1:45:39 AM</div><div class="t" style="left:647.30px;top:2078.27px;font:400 24px 'Liberation Sans', sans-serif;color:#2b3748;z-index:5;transform:scaleX(1.0431);transform-origin:0 0;">attempt</div><div class="t" style="left:746.50px;top:2078.27px;font:400 24px 'Liberation Sans', sans-serif;color:#2b3748;z-index:5;">2</div><div class="t" style="left:2296.60px;top:1629.15px;font:400 28px 'Liberation Sans', sans-serif;color:#0f172a;z-index:5;transform:scaleX(0.9600);transform-origin:0 0;">13m 50s</div><div class="t" style="left:1072.30px;top:1770.65px;font:400 28px 'Liberation Sans', sans-serif;color:#0f172a;z-index:5;transform:scaleX(0.9679);transform-origin:0 0;">100ms</div><div class="t" style="left:1661.60px;top:1936.65px;font:400 28px 'Liberation Sans', sans-serif;color:#0f172a;z-index:5;transform:scaleX(0.9707);transform-origin:0 0;">7m 8s</div><div class="t" style="left:2275.00px;top:2088.65px;font:400 28px 'Liberation Sans', sans-serif;color:#0f172a;z-index:5;transform:scaleX(0.9489);transform-origin:0 0;">6m 10s</div><div class="t" style="left:2504.70px;top:612.85px;font:400 28px 'Liberation Sans', sans-serif;color:#2b3748;z-index:5;transform:scaleX(0.9898);transform-origin:0 0;">Trigger details</div><div class="t" style="left:2504.70px;top:710.15px;font:400 28px 'Liberation Sans', sans-serif;color:#64748b;z-index:5;transform:scaleX(0.9770);transform-origin:0 0;">Trigger name</div><div class="t" style="left:2897.20px;top:710.15px;font:400 28px 'Liberation Sans', sans-serif;color:#64748b;z-index:5;transform:scaleX(0.9867);transform-origin:0 0;">Event ID</div><div class="t" style="left:2502.70px;top:765.65px;font:400 28px 'Liberation Sans', sans-serif;color:#2b3748;z-index:5;transform:scaleX(0.9781);transform-origin:0 0;">Event name</div><div class="t" style="left:2898.00px;top:765.62px;font:400 30px 'Liberation Mono', monospace;color:#334155;z-index:5;transform:scaleX(0.9310);transform-origin:0 0;">01HSHA4GT0FN0NRBKTF92E98H7</div><div class="t" style="left:2502.70px;top:845.55px;font:400 28px 'Liberation Sans', sans-serif;color:#64748b;z-index:5;">Received At</div><div class="t" style="left:2503.70px;top:901.45px;font:400 28px 'Liberation Sans', sans-serif;color:#2b3748;z-index:5;transform:scaleX(1.0234);transform-origin:0 0;">3/12/24, 9:00:12 AM</div><div class="t" style="left:2471.60px;top:1005.65px;font:400 28px 'Liberation Sans', sans-serif;color:#2b3748;z-index:5;transform:scaleX(0.9817);transform-origin:0 0;">Payload</div><div class="t" style="left:3049.30px;top:1007.46px;font:400 26px 'Liberation Sans', sans-serif;color:#0f172a;z-index:5;transform:scaleX(0.9088);transform-origin:0 0;">Send to dev server</div><div class="t" style="left:3311.40px;top:1007.46px;font:400 26px 'Liberation Sans', sans-serif;color:#0f172a;z-index:5;transform:scaleX(0.9467);transform-origin:0 0;">Copy</div><div class="t" style="left:2569.00px;top:1123.59px;font:400 28px 'Liberation Mono', monospace;color:#0f172a;z-index:5;"><span style="color:#ca8a04">{</span></div><div class="t" style="left:2512.60px;top:1123.59px;font:400 28px 'Liberation Mono', monospace;color:#334155;z-index:5;">1</div><div class="t" style="left:2569.00px;top:1171.49px;font:400 28px 'Liberation Mono', monospace;color:#0f172a;z-index:5;"><span style="color:#8b5cf6">  "name"</span><span style="color:#0f172a">: </span><span style="color:#0d9488">"signup.new"</span><span style="color:#0f172a">,</span></div><div class="t" style="left:2512.60px;top:1171.49px;font:400 28px 'Liberation Mono', monospace;color:#334155;z-index:5;">2</div><div class="t" style="left:2569.00px;top:1219.39px;font:400 28px 'Liberation Mono', monospace;color:#0f172a;z-index:5;"><span style="color:#8b5cf6">  "data"</span><span style="color:#0f172a">: </span><span style="color:#c026d3">{</span></div><div class="t" style="left:2512.60px;top:1219.39px;font:400 28px 'Liberation Mono', monospace;color:#334155;z-index:5;">3</div><div class="t" style="left:2569.00px;top:1267.29px;font:400 28px 'Liberation Mono', monospace;color:#0f172a;z-index:5;"><span style="color:#8b5cf6">    "account_id"</span><span style="color:#0f172a">: </span><span style="color:#0d9488">"119f5971-9878-46bd-a18f-4fecd"</span><span style="color:#0f172a">,</span></div><div class="t" style="left:2513.60px;top:1267.29px;font:400 28px 'Liberation Mono', monospace;color:#334155;z-index:5;">4</div><div class="t" style="left:2569.00px;top:1315.19px;font:400 28px 'Liberation Mono', monospace;color:#0f172a;z-index:5;"><span style="color:#8b5cf6">    "method"</span><span style="color:#0f172a">: </span><span style="color:#0d9488">""</span><span style="color:#0f172a">,</span></div><div class="t" style="left:2512.60px;top:1315.19px;font:400 28px 'Liberation Mono', monospace;color:#334155;z-index:5;">5</div><div class="t" style="left:2569.00px;top:1363.09px;font:400 28px 'Liberation Mono', monospace;color:#0f172a;z-index:5;"><span style="color:#8b5cf6">    "plan_name"</span><span style="color:#0f172a">: </span><span style="color:#0d9488">"Free Tier"</span></div><div class="t" style="left:2512.60px;top:1363.09px;font:400 28px 'Liberation Mono', monospace;color:#334155;z-index:5;">6</div><div class="t" style="left:2569.00px;top:1410.99px;font:400 28px 'Liberation Mono', monospace;color:#0f172a;z-index:5;"><span style="color:#c026d3">  }</span><span style="color:#0f172a">,</span></div><div class="t" style="left:2512.60px;top:1410.99px;font:400 28px 'Liberation Mono', monospace;color:#334155;z-index:5;">7</div><div class="t" style="left:2569.00px;top:1458.89px;font:400 28px 'Liberation Mono', monospace;color:#0f172a;z-index:5;"><span style="color:#8b5cf6">  "id"</span><span style="color:#0f172a">: </span><span style="color:#0d9488">"119f5971-9878-46bd-a18f-4f0680174ecd"</span><span style="color:#0f172a">,</span></div><div class="t" style="left:2512.60px;top:1458.89px;font:400 28px 'Liberation Mono', monospace;color:#334155;z-index:5;">8</div><div class="t" style="left:2569.00px;top:1506.79px;font:400 28px 'Liberation Mono', monospace;color:#0f172a;z-index:5;"><span style="color:#8b5cf6">  "ts"</span><span style="color:#0f172a">: </span><span style="color:#ca8a04">1711051784369</span><span style="color:#0f172a">,</span></div><div class="t" style="left:2512.60px;top:1506.79px;font:400 28px 'Liberation Mono', monospace;color:#334155;z-index:5;">9</div><div class="t" style="left:2569.00px;top:1554.69px;font:400 28px 'Liberation Mono', monospace;color:#0f172a;z-index:5;"><span style="color:#8b5cf6">  "v"</span><span style="color:#0f172a">: </span><span style="color:#0d9488">"2021-05-11.01"</span></div><div class="t" style="left:2504.20px;top:1554.69px;font:400 28px 'Liberation Mono', monospace;color:#334155;z-index:5;">10</div><div class="t" style="left:2569.00px;top:1602.59px;font:400 28px 'Liberation Mono', monospace;color:#0f172a;z-index:5;"><span style="color:#ca8a04">}</span></div><div class="t" style="left:2504.20px;top:1602.59px;font:400 28px 'Liberation Mono', monospace;color:#334155;z-index:5;">11</div>
</body></html>
